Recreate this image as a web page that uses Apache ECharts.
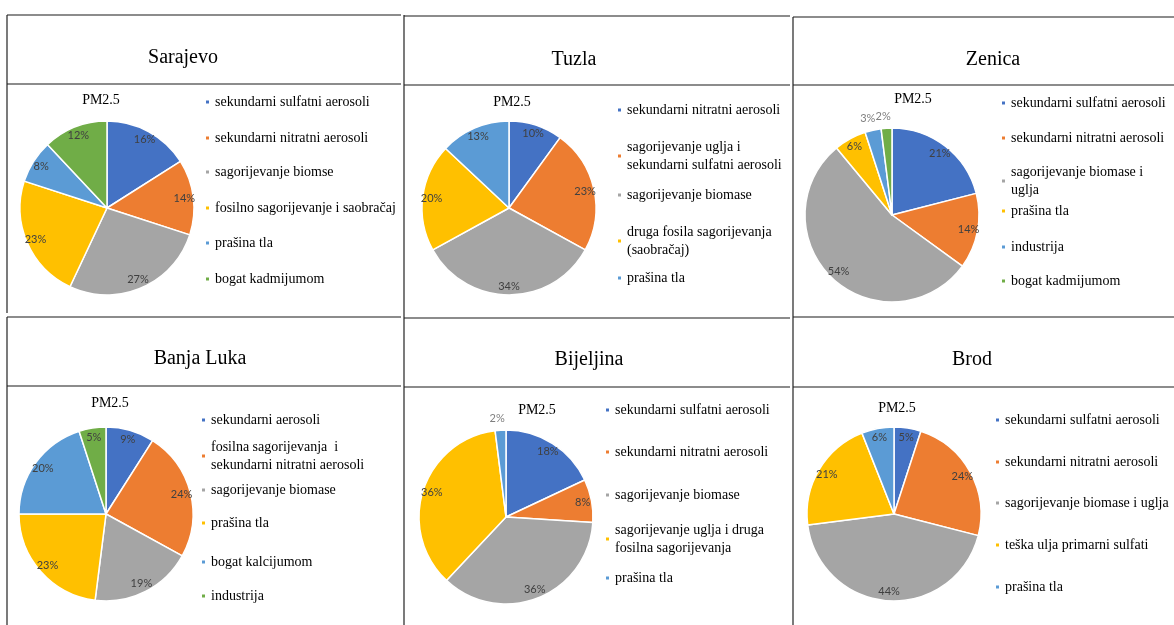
<!DOCTYPE html>
<html>
<head>
<meta charset="utf-8">
<script src="https://cdn.jsdelivr.net/npm/echarts@6/dist/echarts.min.js"></script>
<style>
  html, body { margin: 0; padding: 0; background: #ffffff; }
  #chart { width: 1174px; height: 625px; }
</style>
</head>
<body>
<div id="chart"></div>
<script>
// PM2.5 source apportionment by city (% of total mass)
const cities = ['Sarajevo', 'Tuzla', 'Zenica', 'Banja Luka', 'Bijeljina', 'Brod'];
const pollutant = 'PM2.5';

const sarajevoSources = ['sekundarni sulfatni aerosoli', 'sekundarni nitratni aerosoli', 'sagorijevanje biomse', 'fosilno sagorijevanje i saobračaj', 'prašina tla', 'bogat kadmijumom'];
const sarajevoShares = [16, 14, 27, 23, 8, 12];

const tuzlaSources = ['sekundarni nitratni aerosoli', 'sagorijevanje uglja i\nsekundarni sulfatni aerosoli', 'sagorijevanje biomase', 'druga fosila sagorijevanja\n(saobračaj)', 'prašina tla'];
const tuzlaShares = [10, 23, 34, 20, 13];

const zenicaSources = ['sekundarni sulfatni aerosoli', 'sekundarni nitratni aerosoli', 'sagorijevanje biomase i\nuglja', 'prašina tla', 'industrija', 'bogat kadmijumom'];
const zenicaShares = [21, 14, 54, 6, 3, 2];

const banjaLukaSources = ['sekundarni aerosoli', 'fosilna sagorijevanja  i\nsekundarni nitratni aerosoli', 'sagorijevanje biomase', 'prašina tla', 'bogat kalcijumom', 'industrija'];
const banjaLukaShares = [9, 24, 19, 23, 20, 5];

const bijeljinaSources = ['sekundarni sulfatni aerosoli', 'sekundarni nitratni aerosoli', 'sagorijevanje biomase', 'sagorijevanje uglja i druga\nfosilna sagorijevanja', 'prašina tla'];
const bijeljinaShares = [18, 8, 36, 36, 2];

const brodSources = ['sekundarni sulfatni aerosoli', 'sekundarni nitratni aerosoli', 'sagorijevanje biomase i uglja', 'teška ulja primarni sulfati', 'prašina tla'];
const brodShares = [5, 24, 44, 21, 6];

const sourcesByCity = [sarajevoSources, tuzlaSources, zenicaSources, banjaLukaSources, bijeljinaSources, brodSources];
const sharesByCity = [sarajevoShares, tuzlaShares, zenicaShares, banjaLukaShares, bijeljinaShares, brodShares];

// Office-style slice palette
const palette = ['#4472C4', '#ED7D31', '#A5A5A5', '#FFC000', '#5B9BD5', '#70AD47'];

// Panel geometry: title centre, subtitle centre, pie centre, legend column x and item rows
const panels = [
  { title: [183, 58],  sub: [101, 100], pie: [107, 208], legendX: 204,  legendY: [102, 138, 172, 208, 243, 279] },
  { title: [574, 60],  sub: [512, 102], pie: [509, 208], legendX: 616,  legendY: [110, 147, 195, 232, 278] },
  { title: [993, 60],  sub: [913, 99],  pie: [892, 215], legendX: 1000, legendY: [103, 138, 172, 211, 247, 281] },
  { title: [200, 359], sub: [110, 403], pie: [106, 514], legendX: 200,  legendY: [420, 447, 490, 523, 562, 596] },
  { title: [589, 360], sub: [537, 410], pie: [506, 517], legendX: 604,  legendY: [410, 452, 495, 530, 578] },
  { title: [972, 360], sub: [897, 408], pie: [894, 514], legendX: 994,  legendY: [420, 462, 503, 545, 587] }
];
const pieRadius = 87;
const labelRing = 63;       // inner edge of the label ring, puts labels near the rim
const SEP = '::';

const serif = '"Liberation Serif", "Times New Roman", serif';
const sans = 'Lato, "Liberation Sans", sans-serif';

const titles = [];
const legends = [];
const series = [];

cities.forEach((city, p) => {
  const lay = panels[p];
  const sources = sourcesByCity[p];
  const shares = sharesByCity[p];

  titles.push({
    text: city, left: lay.title[0], top: lay.title[1] - 12, textAlign: 'center', padding: 0,
    textStyle: { fontFamily: serif, fontSize: 20, fontWeight: 'normal', color: '#000', lineHeight: 24 }
  });
  titles.push({
    text: pollutant, left: lay.sub[0], top: lay.sub[1] - 9, textAlign: 'center', padding: 0,
    textStyle: { fontFamily: serif, fontSize: 14, fontWeight: 'normal', color: '#000', lineHeight: 18 }
  });

  const keys = sources.map(s => city + SEP + s);

  // slices
  series.push({
    type: 'pie',
    center: lay.pie,
    radius: [0, pieRadius],
    startAngle: 90,
    clockwise: true,
    animation: false,
    silent: true,
    label: { show: false },
    labelLine: { show: false },
    itemStyle: { borderColor: '#ffffff', borderWidth: 1.5 },
    data: shares.map((v, i) => ({ name: keys[i], value: v, itemStyle: { color: palette[i] } }))
  });

  // percentage labels, carried by a transparent ring so they sit near the rim
  series.push({
    type: 'pie',
    center: lay.pie,
    radius: [labelRing, pieRadius],
    startAngle: 90,
    clockwise: true,
    animation: false,
    silent: true,
    avoidLabelOverlap: false,
    itemStyle: { color: 'rgba(0,0,0,0)', borderWidth: 0 },
    emphasis: { disabled: true },
    label: {
      show: true, position: 'inside', formatter: '{c}%',
      fontFamily: sans, fontSize: 11, color: '#404040'
    },
    labelLine: { show: false },
    data: shares.map((v, i) => {
      const item = { name: keys[i] + SEP + 'label', value: v };
      if (v <= 3) {
        item.label = { position: 'outside', color: '#7f7f7f', distanceToLabelLine: 0 };
        item.labelLine = { show: false, length: 12, length2: -5 };
      }
      return item;
    })
  });

  keys.forEach((k, i) => {
    const lines = sources[i].split('\n').length;
    legends.push({
      orient: 'vertical',
      left: lay.legendX,
      top: lay.legendY[i] - 9,
      padding: 0,
      itemGap: 0,
      itemWidth: 5,
      itemHeight: 5,
      icon: 'rect',
      selectedMode: false,
      data: [k],
      formatter: name => name.split(SEP)[1],
      textStyle: { fontFamily: serif, fontSize: 14, color: '#000', lineHeight: 18 }
    });
  });
});

// table rules: grey horizontal rules per cell, dark vertical rules between columns
const hRules = [
  [7, 401, 15], [404, 790, 16], [793, 1174, 17],
  [7, 401, 84], [404, 790, 85], [793, 1174, 85],
  [7, 401, 317], [404, 790, 318], [793, 1174, 317],
  [7, 401, 386], [404, 790, 387], [793, 1174, 387]
];
const vRules = [
  [7, 15, 313], [7, 317, 625],
  [404, 15, 625],
  [793, 17, 625]
];
const graphic = [];
hRules.forEach(([x1, x2, y]) => graphic.push({
  type: 'line', silent: true,
  shape: { x1, y1: y, x2, y2: y },
  style: { stroke: '#8c8c8c', lineWidth: 2 }
}));
vRules.forEach(([x, y1, y2]) => graphic.push({
  type: 'line', silent: true,
  shape: { x1: x, y1, x2: x, y2 },
  style: { stroke: '#222222', lineWidth: 1.2 }
}));

const chart = echarts.init(document.getElementById('chart'), null, { renderer: 'canvas' });
chart.setOption({
  backgroundColor: '#ffffff',
  animation: false,
  title: titles,
  legend: legends,
  graphic: graphic,
  series: series
});
</script>
</body>
</html>
